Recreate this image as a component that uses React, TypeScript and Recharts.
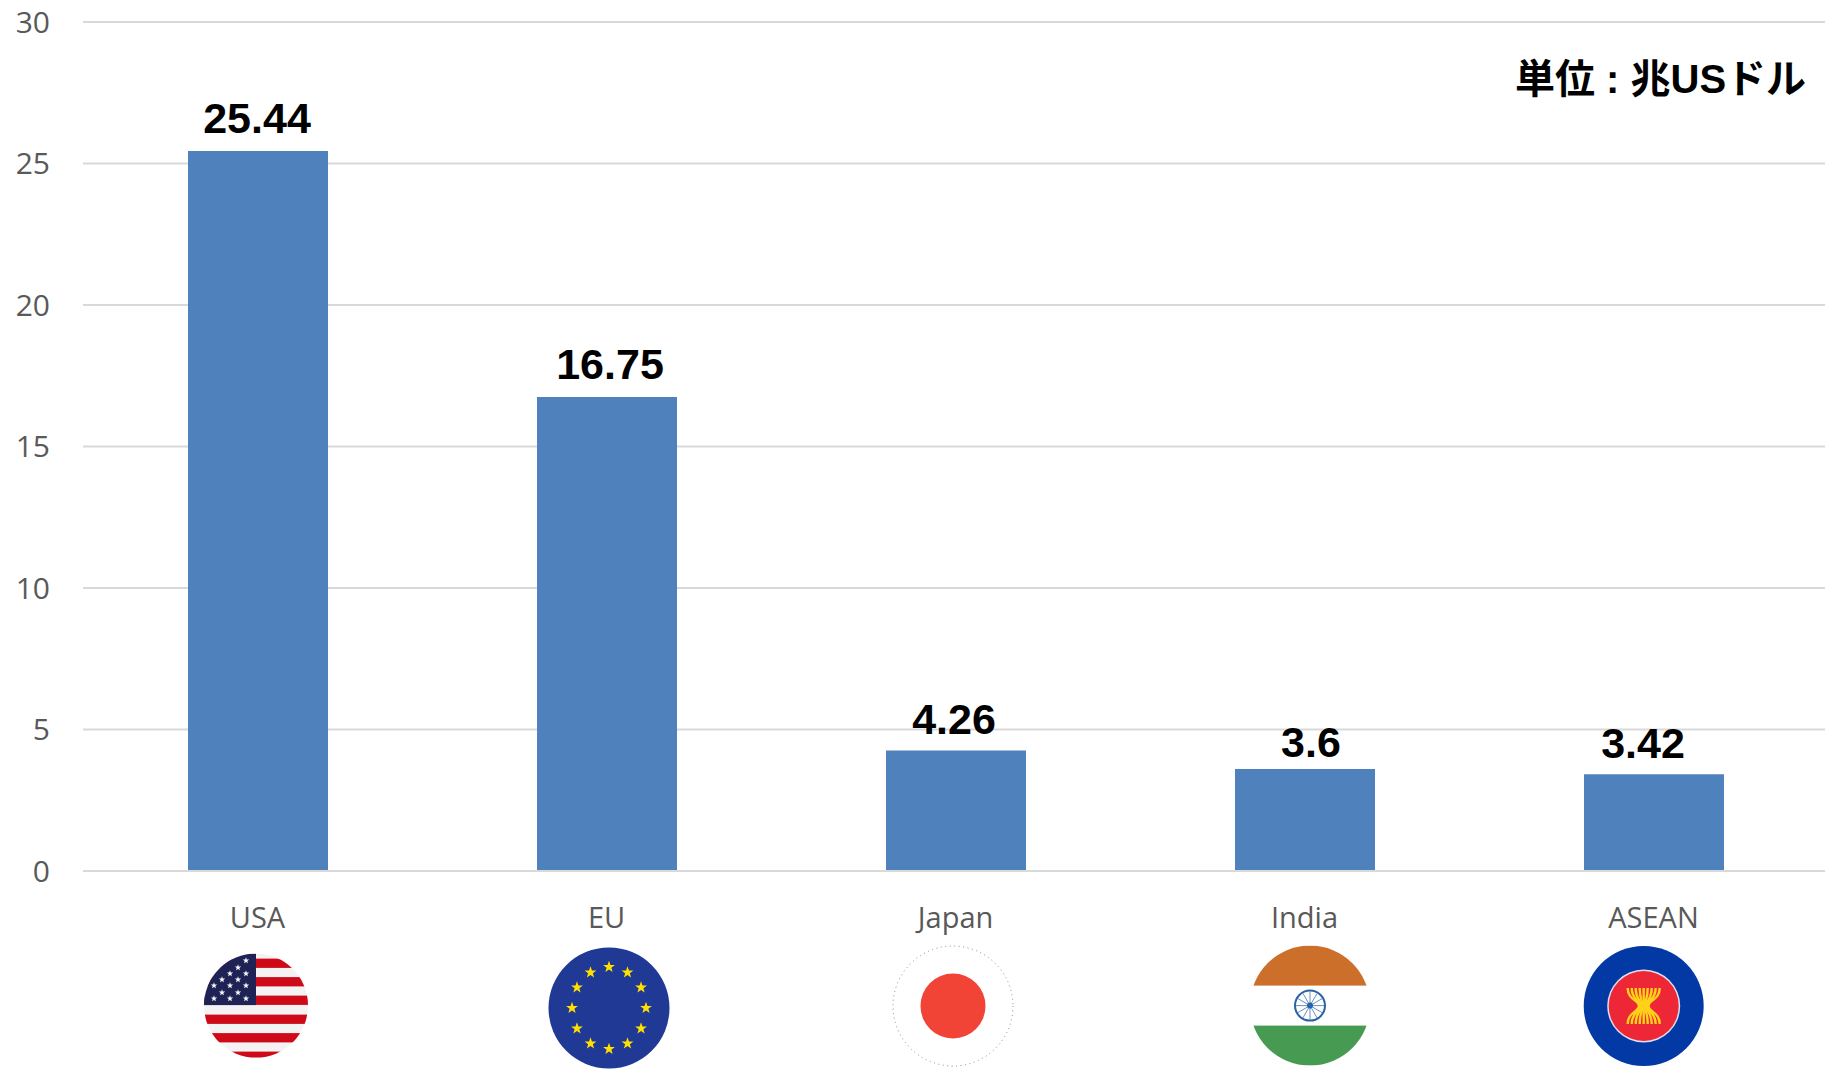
import React from "react";
import { BarChart, Bar, XAxis, YAxis, CartesianGrid, LabelList } from "recharts";

const categories = ["USA", "EU", "Japan", "India", "ASEAN"];
const gdpValues = [25.44, 16.75, 4.26, 3.6, 3.42];
const yTicks = [0, 5, 10, 15, 20, 25, 30];

const rows = categories.map((name, i) => ({ name, gdp: gdpValues[i] }));

// Hand placement of the value labels: offset from bar centre, gap above bar top.
const labelPlacement: Record<string, { dx: number; gap: number }> = {
  USA: { dx: -1, gap: 18 },
  EU: { dx: 3, gap: 18 },
  Japan: { dx: -2, gap: 16 },
  India: { dx: 6, gap: 12 },
  ASEAN: { dx: -11, gap: 16 },
};

const starPath = (cx: number, cy: number, r: number) => {
  let d = "";
  for (let i = 0; i < 10; i++) {
    const rad = i % 2 === 0 ? r : r * 0.4;
    const a = -Math.PI / 2 + (i * Math.PI) / 5;
    d += `${i === 0 ? "M" : "L"}${(cx + rad * Math.cos(a)).toFixed(2)} ${(cy + rad * Math.sin(a)).toFixed(2)}`;
  }
  return d + "Z";
};

const usaStars: [number, number][] = [
  [-10, -45], [-18, -38], [-26, -32], [-10, -32], [-34, -26], [-18, -26], [-42, -20],
  [-26, -20], [-10, -20], [-34, -13], [-18, -13], [-42, -7], [-26, -7], [-10, -7],
];
const usaRedOffsets = [-47, -28.5, -10, 9, 27.5, 46];

const UsaFlag = () => (
  <g transform="translate(-1.5,134.6)">
    <clipPath id="clip-usa"><circle r={52} /></clipPath>
    <g clipPath="url(#clip-usa)">
      <rect x={-52} y={-52} width={104} height={104} fill="#f5f2f4" />
      {usaRedOffsets.map((y) => (
        <rect key={y} x={-52} y={y} width={104} height={9.3} fill="#cf0a18" />
      ))}
      <rect x={-52} y={-52} width={52} height={51.5} fill="#1f2255" />
      {usaStars.map(([x, y]) => (
        <path key={`${x},${y}`} d={starPath(x, y, 3.4)} fill="#f5f5f5" />
      ))}
    </g>
  </g>
);

const euStarAngles = [0, 30, 60, 90, 120, 150, 180, 210, 240, 270, 300, 330];

const EuFlag = () => (
  <g transform="translate(2.5,137)">
    <circle r={60.5} fill="#1f3995" />
    {euStarAngles.map((deg) => {
      const a = (deg * Math.PI) / 180;
      return <path key={deg} d={starPath(37 * Math.cos(a), 41 * Math.sin(a), 6.2)} fill="#ffe000" />;
    })}
  </g>
);

const JapanFlag = () => (
  <g transform="translate(-2.5,135)">
    <circle r={60} fill="#fff" stroke="#8a8a8a" strokeWidth={1} strokeDasharray="1 3.5" />
    <circle r={32.5} fill="#f14336" />
  </g>
);

const chakraSpokes = [0, 30, 60, 90, 120, 150, 180, 210, 240, 270, 300, 330];

const IndiaFlag = () => (
  <g transform="translate(5.5,134.6)">
    <clipPath id="clip-india"><circle r={60} /></clipPath>
    <g clipPath="url(#clip-india)">
      <rect x={-60} y={-60} width={120} height={40} fill="#cc6f2b" />
      <rect x={-60} y={20} width={120} height={40} fill="#479a52" />
    </g>
    <circle r={15} fill="none" stroke="#2a62a8" strokeWidth={2} />
    {chakraSpokes.map((deg) => {
      const a = (deg * Math.PI) / 180;
      return (
        <line key={deg} x1={0} y1={0} x2={14 * Math.cos(a)} y2={14 * Math.sin(a)} stroke="#2a62a8" strokeWidth={1} opacity={0.7} />
      );
    })}
    <circle r={3} fill="#2a62a8" />
  </g>
);

const sheafOffsets = [-17, -13, -9, -5, -1, 3, 7, 11, 15];

const AseanFlag = () => (
  <g transform="translate(-9.8,135)">
    <circle r={60} fill="#0239a5" />
    <circle r={36.5} fill="#ffffff" opacity={0.85} />
    <circle r={35} fill="#ee2737" />
    {sheafOffsets.map((x) => (
      <path
        key={x}
        d={`M${x + 1} -18 C${x + 1} -6 ${(x + 1) * 0.3} -6 ${(x + 1) * 0.3} 0 C${(x + 1) * 0.3} 6 ${x + 1} 6 ${x + 1} 18`}
        fill="none"
        stroke="#ffd21a"
        strokeWidth={2.4}
      />
    ))}
  </g>
);

const flagByName: Record<string, React.FC> = {
  USA: UsaFlag,
  EU: EuFlag,
  Japan: JapanFlag,
  India: IndiaFlag,
  ASEAN: AseanFlag,
};

const CategoryTick = ({ x, y, payload }: any) => {
  const Flag = flagByName[payload.value];
  return (
    <g transform={`translate(${x},${y})`}>
      <text x={0} y={57} textAnchor="middle" fontFamily="'Open Sans'" fontSize={29} fill="#595959">
        {payload.value}
      </text>
      {Flag ? <Flag /> : null}
    </g>
  );
};

const ValueLabel = ({ x, y, width, value, index }: any) => {
  const place = labelPlacement[categories[index]];
  return (
    <text
      x={x + width / 2 + place.dx}
      y={y - place.gap}
      textAnchor="middle"
      fontFamily="'Liberation Sans'"
      fontWeight={700}
      fontSize={43}
      fill="#000"
    >
      {value}
    </text>
  );
};

export default function App() {
  return (
    <div style={{ position: "fixed", left: 0, top: 0, width: 1825, height: 1069, overflow: "hidden", background: "#fff" }}>
      <BarChart
        width={1828}
        height={1069}
        data={rows}
        margin={{ top: 22, right: 0, bottom: 0, left: 0 }}
        barSize={140}
      >
        <CartesianGrid vertical={false} stroke="#d9d9d9" strokeWidth={2} />
        <XAxis
          dataKey="name"
          height={198}
          interval={0}
          tickSize={0}
          tickMargin={0}
          axisLine={{ stroke: "#d9d9d9", strokeWidth: 2 }}
          tickLine={false}
          tick={<CategoryTick />}
        />
        <YAxis
          width={83}
          domain={[0, 30]}
          ticks={yTicks}
          interval={0}
          axisLine={false}
          tickLine={false}
          tickSize={0}
          tickMargin={33}
          tick={{ fontFamily: "'Open Sans'", fontSize: 30, fill: "#595959" }}
        />
        <Bar dataKey="gdp" fill="#4f81bd" isAnimationActive={false}>
          <LabelList dataKey="gdp" content={<ValueLabel />} />
        </Bar>
        <text
          x={1515}
          y={93}
          fontFamily="'Liberation Sans', 'Noto Sans CJK JP'"
          fontWeight={700}
          fontSize={40}
          fill="#000"
        >
          単位 : 兆USドル
        </text>
      </BarChart>
    </div>
  );
}
